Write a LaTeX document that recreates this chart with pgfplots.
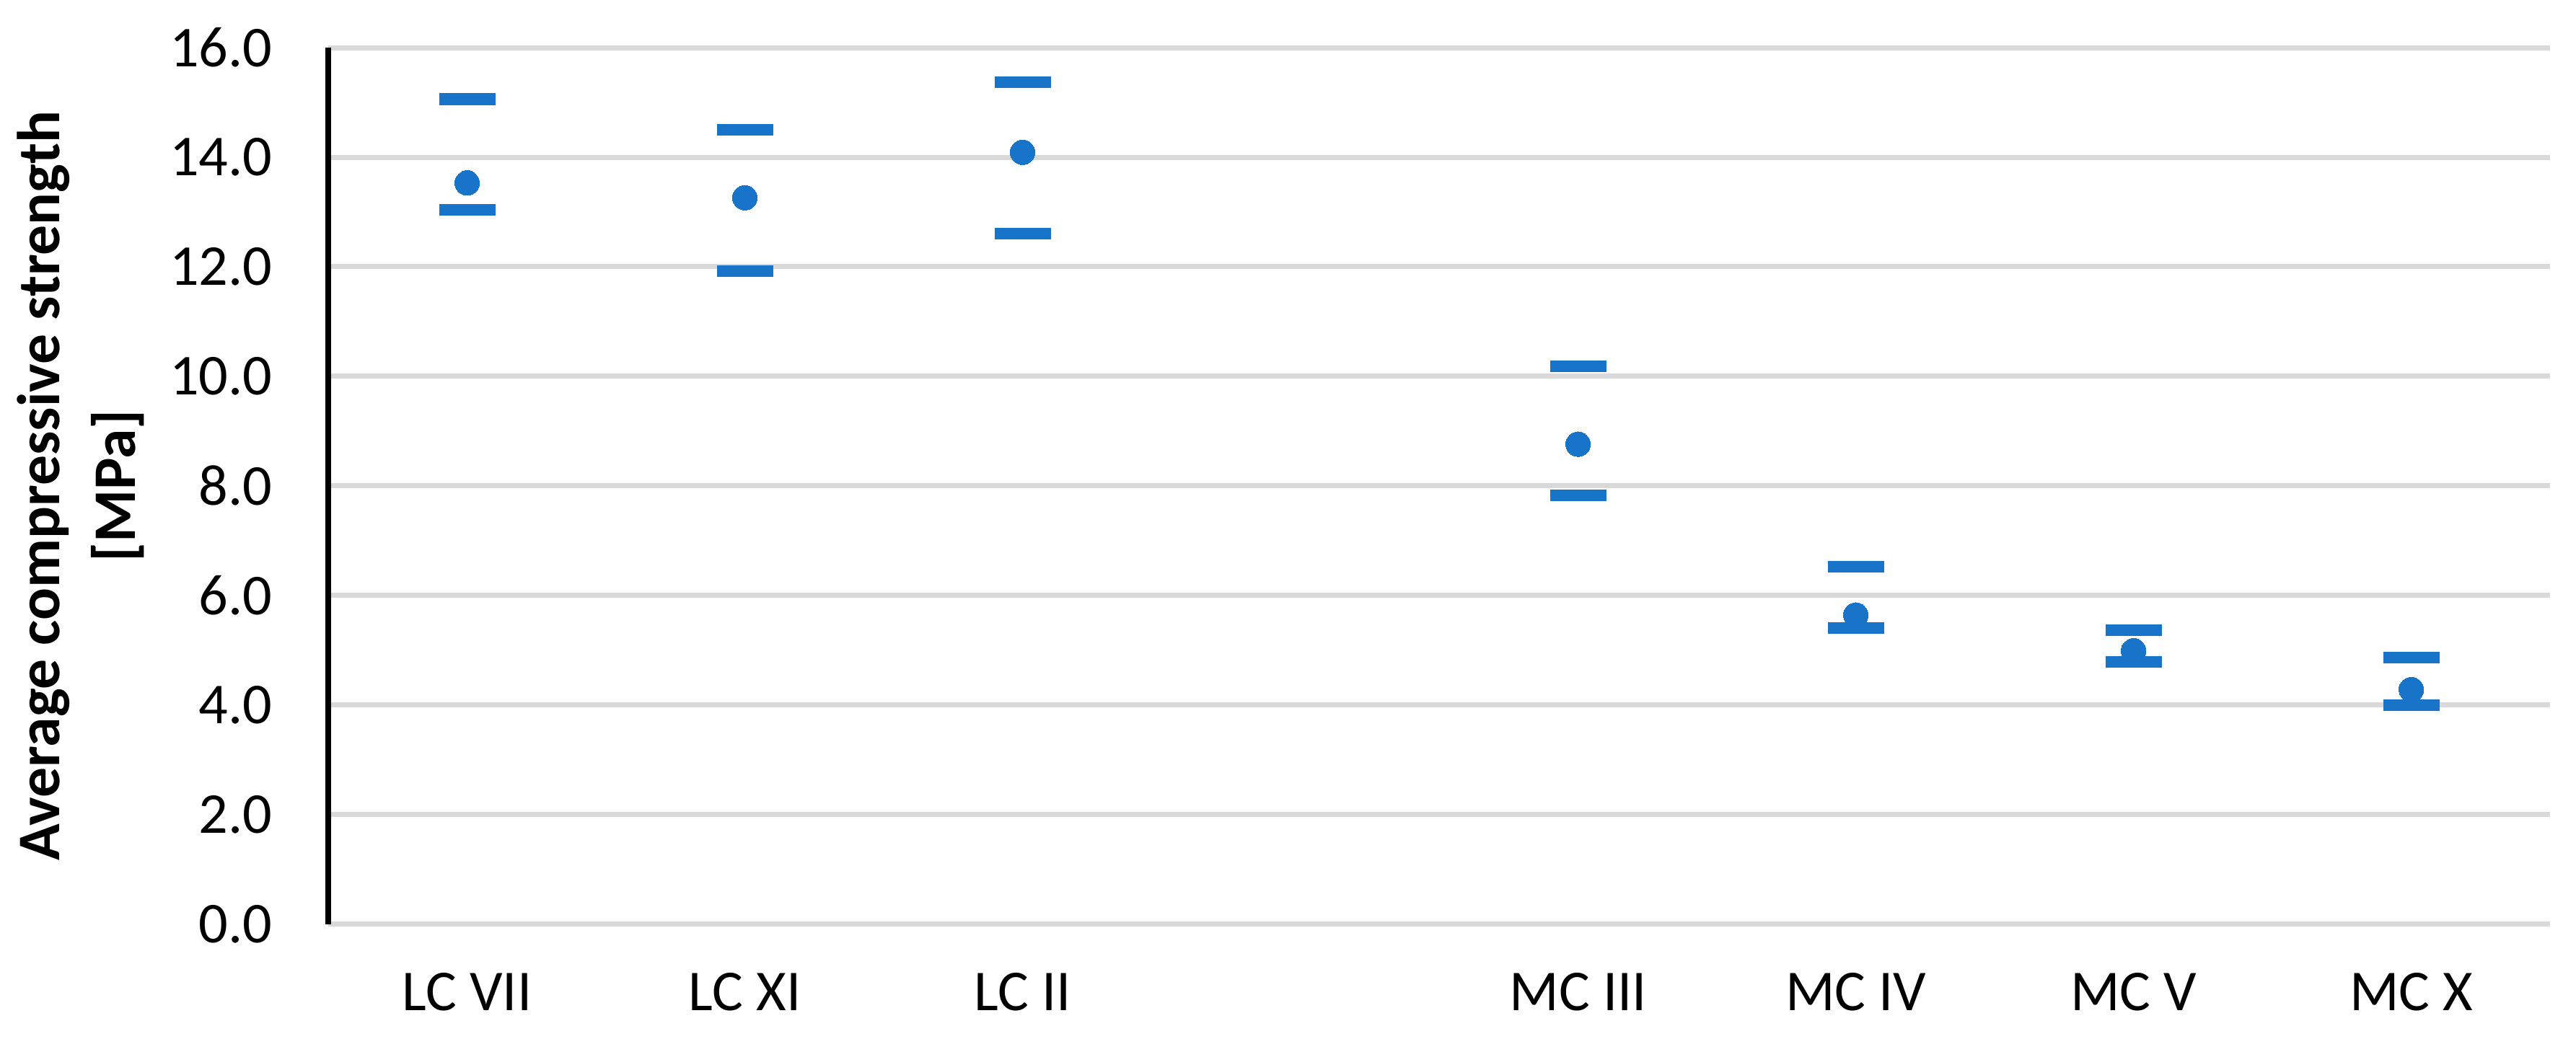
\documentclass[border=0pt]{standalone}
\usepackage{pgfplots}
\pgfplotsset{compat=1.18}
\usepackage{pgfplotstable}
\usepackage{fontspec}
\setmainfont{Carlito}
\definecolor{mblue}{HTML}{1874C9}
\definecolor{gridgray}{HTML}{D9D9D9}
\pgfplotstableread{
x mean min max
0 13.53 13.04 15.06
1 13.26 11.92 14.50
2 14.09 12.61 15.37
4 8.76 7.82 10.18
5 5.64 5.41 6.52
6 4.99 4.79 5.36
7 4.28 4.00 4.87
}\datatab
\begin{document}
\fontsize{11.5pt}{13.8pt}\selectfont
\begin{tikzpicture}
\useasboundingbox (-2.293cm,-0.801cm) rectangle (15.70cm,6.457cm);
\begin{axis}[
  scale only axis,
  width=15.52cm, height=6.124cm,
  xmin=-0.5, xmax=7.5,
  ymin=0, ymax=16,
  xtick={0,1,2,4,5,6,7},
  xticklabels={LC VII, LC XI, LC II, MC III, MC IV, MC V, MC X},
  ytick={0,2,...,16},
  /pgf/number format/assume math mode=true,
  yticklabel style={/pgf/number format/fixed, /pgf/number format/fixed zerofill, /pgf/number format/precision=1, xshift=-0.25cm},
  major tick length=0pt,
  axis lines*=left,
  x axis line style={draw=none},
  y axis line style={black, line width=1.1pt},
  ymajorgrids,
  grid style={gridgray, line width=1pt},
  tick label style={font=\fontsize{11.5pt}{13.8pt}\selectfont},
  xticklabel style={yshift=-0.2cm},
  ylabel={Average compressive strength\\{[MPa]}},
  ylabel style={font=\bfseries\fontsize{12pt}{15pt}\selectfont, align=center, at={(axis description cs:-0.1115,0.5)}, anchor=center},
]
\addplot[mblue, only marks, mark=*, mark size=2.45pt, mark options={draw=mblue, fill=mblue, line width=0pt}] table[x=x, y=mean] {\datatab};
\addplot[mblue, only marks, mark=-, mark size=5.6pt, mark options={draw=mblue, line width=2.3pt}] table[x=x, y=min] {\datatab};
\addplot[mblue, only marks, mark=-, mark size=5.6pt, mark options={draw=mblue, line width=2.3pt}] table[x=x, y=max] {\datatab};
\end{axis}
\end{tikzpicture}
\end{document}
